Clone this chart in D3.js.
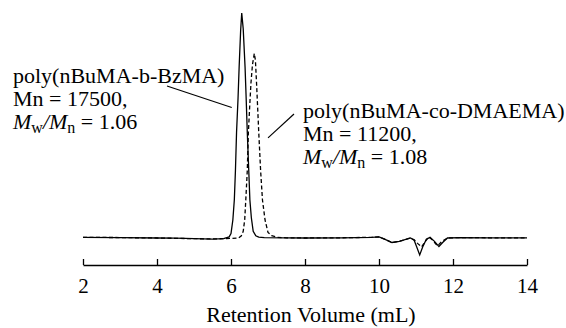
<!DOCTYPE html>
<html>
<head>
<meta charset="utf-8">
<script src="https://cdn.jsdelivr.net/npm/d3@7"></script>
<style>
  body { margin: 0; background: #fff; }
  svg { display: block; }
  text { font-family: "Liberation Serif", "Times New Roman", serif; fill: #000; }
</style>
</head>
<body>
<svg id="chart" width="566" height="328"></svg>
<script>
// retention volume (mL) / detector response
const blockVol = [2.0, 3.0, 4.0, 4.5, 5.0, 5.5, 5.8, 5.95, 6.0, 6.05, 6.09, 6.12, 6.15, 6.19, 6.22, 6.26, 6.29,
  6.33, 6.38, 6.41, 6.44, 6.48, 6.51, 6.55, 6.6, 6.67, 6.75, 6.9, 7.5, 8.0, 9.0, 9.8, 10.0, 10.15, 10.35,
  10.55, 10.85, 10.95, 11.02, 11.1, 11.18, 11.28, 11.38, 11.5, 11.62, 11.72, 11.85, 12.2, 13.0, 14.0];
const blockSig = [0.3, 0.2, 0.0, -0.1, -0.3, -0.5, -0.3, 0.5, 2, 8, 17, 30, 47, 62, 76, 92, 100,
  93, 76, 62, 47, 30, 17, 9, 3, 1, 0.4, 0.2, 0.1, 0, 0.1, 0.3, 0.5, -0.5, -2,
  -1.5, 0, -1, -4, -7.5, -4, -0.5, 0.3, -1.5, -3.8, -2, 0, 0.2, 0.1, 0.1];

const coVol = [2.0, 3.0, 4.0, 5.0, 5.5, 6.0, 6.2, 6.28, 6.33, 6.37, 6.4, 6.44, 6.47, 6.51, 6.54, 6.58, 6.63,
  6.66, 6.69, 6.72, 6.75, 6.8, 6.85, 6.92, 7.0, 7.1, 7.25, 7.5, 8.0, 9.0, 9.8, 10.0, 10.15, 10.35,
  10.55, 10.85, 10.95, 11.05, 11.15, 11.25, 11.35, 11.45, 11.58, 11.7, 11.85, 12.2, 13.0, 14.0];
const coSig = [0.3, 0.2, 0.0, -0.3, -0.4, -0.2, 0, 1, 3, 8, 17, 30, 47, 60, 69, 77, 82,
  79, 69, 58, 47, 30, 17, 8, 2.5, 1, 0.3, 0.1, 0, 0.1, 0.3, 0.5, -0.5, -2,
  -1.5, 0, -0.8, -2.5, -4, -1.5, 0.5, -1, -3.5, -1.5, 0, 0.2, 0.1, 0.1];

const xTicks = [2, 4, 6, 8, 10, 12, 14];
const xTitle = 'Retention Volume (mL)';

const svg = d3.select('#chart');

const x = d3.scaleLinear().domain([2, 14]).range([83, 527]);
const y = d3.scaleLinear().domain([0, 100]).range([238, 13]);

const line = d3.line().x(d => x(d[0])).y(d => y(d[1]));

svg.append('path')
  .datum(blockVol.map((v, i) => [v, blockSig[i]]))
  .attr('d', line)
  .attr('fill', 'none')
  .attr('stroke', '#000')
  .attr('stroke-width', 1.3);

svg.append('path')
  .datum(coVol.map((v, i) => [v, coSig[i]]))
  .attr('d', line)
  .attr('fill', 'none')
  .attr('stroke', '#000')
  .attr('stroke-width', 1.3)
  .attr('stroke-dasharray', '4,2.5');

// x axis, ticks pointing up
const xAxis = d3.axisBottom(x)
  .tickValues(xTicks)
  .tickSizeInner(-6)
  .tickSizeOuter(0)
  .tickPadding(13)
  .tickFormat(d3.format('d'));

const gx = svg.append('g')
  .attr('transform', 'translate(0,265)')
  .call(xAxis);
gx.selectAll('path, line').attr('stroke', '#000').attr('stroke-width', 1.3);
gx.selectAll('text')
  .style('font-family', '"Liberation Serif", serif')
  .style('font-size', '21px');

svg.append('text')
  .attr('x', (x(2) + x(14)) / 2 + 6)
  .attr('y', 322)
  .attr('text-anchor', 'middle')
  .style('font-size', '22px')
  .text(xTitle);

// annotations
function label(x0, y0, lines, ratio) {
  const t = svg.append('g');
  lines.forEach((txt, i) => {
    t.append('text')
      .attr('x', x0)
      .attr('y', y0 + i * 23)
      .style('font-size', '22px')
      .text(txt);
  });
  const r = t.append('text')
    .attr('x', x0)
    .attr('y', y0 + lines.length * 23)
    .style('font-size', '22px');
  r.append('tspan').style('font-style', 'italic').text('M');
  r.append('tspan').attr('dy', 4).style('font-size', '16px').text('w');
  r.append('tspan').attr('dy', -4).style('font-style', 'italic').text('/M');
  r.append('tspan').attr('dy', 4).style('font-size', '16px').text('n');
  r.append('tspan').attr('dy', -4).text(' = ' + ratio);
}

label(13, 83, ['poly(nBuMA-b-BzMA)', 'Mn = 17500,'], '1.06');
label(303, 118, ['poly(nBuMA-co-DMAEMA)', 'Mn = 11200,'], '1.08');

svg.append('line')
  .attr('x1', 167).attr('y1', 86)
  .attr('x2', x(6.02)).attr('y2', y(58))
  .attr('stroke', '#000').attr('stroke-width', 1.2);

svg.append('line')
  .attr('x1', x(7.0)).attr('y1', y(44.5))
  .attr('x2', 294).attr('y2', 114)
  .attr('stroke', '#000').attr('stroke-width', 1.2);
</script>
</body>
</html>
